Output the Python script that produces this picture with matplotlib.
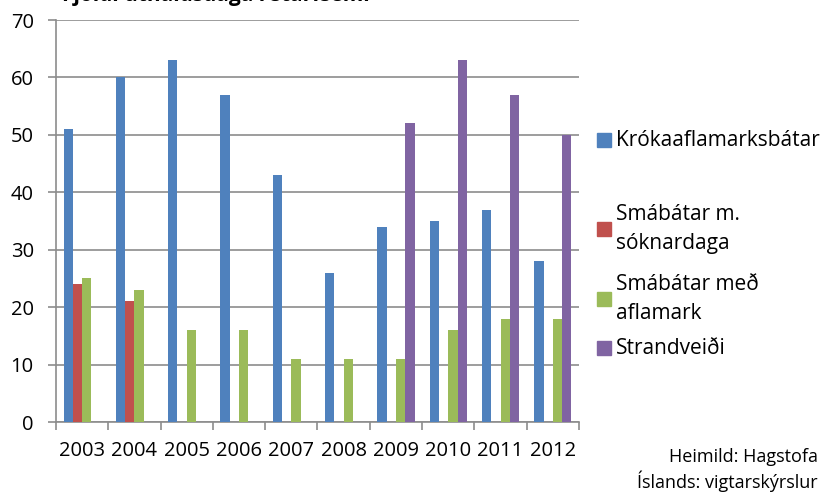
import numpy as np
import matplotlib.pyplot as plt
from matplotlib.patches import Rectangle

years = ["2003", "2004", "2005", "2006", "2007", "2008", "2009", "2010", "2011", "2012"]
series_names = ["Krókaaflamarksbátar", "Smábátar m.\nsóknardaga", "Smábátar með\naflamark", "Strandveiði"]
krokaafla = [51, 60, 63, 57, 43, 26, 34, 35, 37, 28]
soknardaga = [24, 21, 0, 0, 0, 0, 0, 0, 0, 0]
aflamark = [25, 23, 16, 16, 11, 11, 11, 16, 18, 18]
strandveidi = [0, 0, 0, 0, 0, 0, 52, 63, 57, 50]
colors = ["#4F81BD", "#C0504D", "#9BBB59", "#8064A2"]

plt.rcParams['font.family'] = ['Open Sans', 'DejaVu Sans']

fig = plt.figure(figsize=(8.28, 4.95), dpi=100)
ax = fig.add_axes([56 / 828, 1 - 422 / 495, 523 / 828, 402 / 495])

x = np.arange(len(years))
w = 0.178
values = [krokaafla, soknardaga, aflamark, strandveidi]
for i, (vals, c) in enumerate(zip(values, colors)):
    ax.bar(x + (i - 1.5) * w, vals, w, color=c, edgecolor="none", zorder=3)

ax.set_xlim(-0.5, len(years) - 0.5)
ax.set_ylim(0, 70)
ax.set_yticks(range(0, 71, 10))
ax.yaxis.grid(True, color="#8c8c8c", linewidth=1.2, zorder=0)
ax.set_xticks(x)
ax.set_xticklabels(years)
ax.set_xticks(np.arange(-0.5, len(years)), minor=True)
ax.tick_params(axis="x", which="major", length=0, pad=14, labelsize=14.5)
ax.tick_params(axis="x", which="minor", length=6, color="#8c8c8c", width=1.2)
ax.tick_params(axis="y", length=6, color="#8c8c8c", width=1.2, labelsize=14.5, pad=10)
for s in ["top", "right"]:
    ax.spines[s].set_visible(False)
for s in ["left", "bottom"]:
    ax.spines[s].set_color("#8c8c8c")
    ax.spines[s].set_linewidth(1.2)

# title, cut off at the top of the picture as in the original
fig.text(62 / 828, 1 - 1 / 495, "Fjöldi úthaldsdaga í starfsemi", fontsize=15, fontweight="bold",
         ha="left", va="baseline")

# legend
leg_y = [140, 229, 299, 348]
for name, c, yy in zip(series_names, colors, leg_y):
    fig.patches.append(Rectangle((597 / 828, 1 - (yy + 7) / 495), 14 / 828, 14 / 495,
                                 transform=fig.transFigure, color=c))
    fig.text(616 / 828, 1 - yy / 495, name, fontsize=15, ha="left", va="center",
             linespacing=1.5)

fig.text(818 / 828, 1 - 470 / 495, "Heimild: Hagstofa\nÍslands: vigtarskýrslur",
         fontsize=13, ha="right", va="center", linespacing=1.25)

fig.savefig("out.png", dpi=100)
